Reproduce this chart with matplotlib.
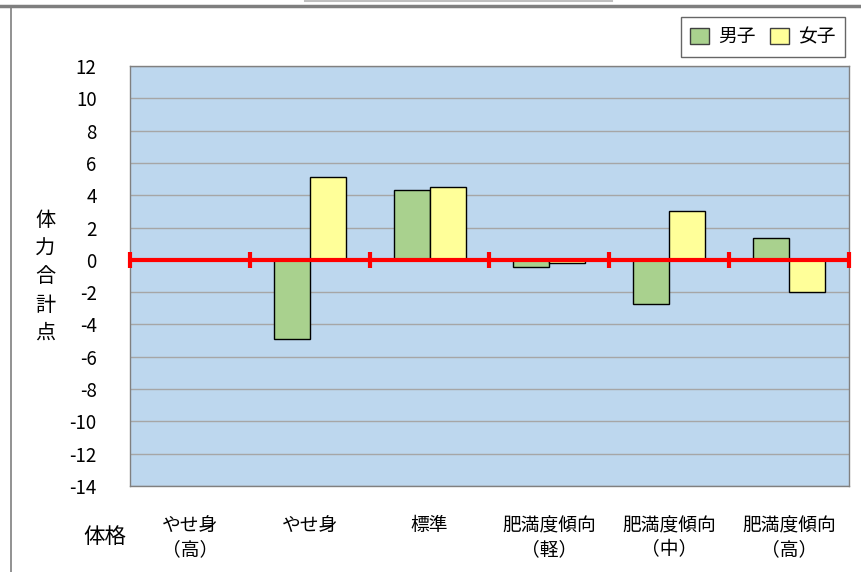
import matplotlib.pyplot as plt
import numpy as np
from matplotlib.lines import Line2D
from matplotlib.patches import Patch

plt.rcParams["font.family"] = ["Noto Sans CJK JP", "DejaVu Sans"]

# data
categories = ["やせ身\n（高）", "やせ身", "標準", "肥満度傾向\n（軽）", "肥満度傾向\n（中）", "肥満度傾向\n（高）"]
boys = [np.nan, -4.9, 4.35, -0.45, -2.75, 1.35]
girls = [np.nan, 5.1, 4.5, -0.2, 3.0, -2.0]
yticks = list(range(-14, 13, 2))

fig = plt.figure(figsize=(8.62, 5.72), dpi=100)
ax = fig.add_axes([130 / 862, 1 - 486 / 572, 719 / 862, 420 / 572])

x = np.arange(len(categories))
w = 0.3
ax.bar(x - w / 2, boys, w, color="#A9D18E", edgecolor="black", linewidth=1, zorder=3)
ax.bar(x + w / 2, girls, w, color="#FFFF99", edgecolor="black", linewidth=1, zorder=3)

ax.set_facecolor("#BDD7EE")
ax.set_xlim(-0.5, len(categories) - 0.5)
ax.set_ylim(-14, 12)
ax.set_yticks(yticks)
ax.set_yticklabels([str(t) for t in yticks], fontsize=13.5)
ax.grid(axis="y", color="#A6A6A6", linewidth=1, zorder=1)
ax.tick_params(axis="y", length=0, pad=24)
for s in ax.spines.values():
    s.set_color("#808080")
    s.set_linewidth(1)

# red zero line with category tick marks
ax.axhline(0, color="#FF0000", linewidth=3, zorder=4)
ax.plot(np.arange(-0.5, len(categories)), np.zeros(len(categories) + 1), "|",
        color="#FF0000", markersize=12, markeredgewidth=3, zorder=4, clip_on=False)

ax.set_xticks(x)
ax.set_xticklabels(categories, fontsize=13.5, linespacing=1.2, va="top")
ax.tick_params(axis="x", length=0, pad=21)

fig.text(45 / 862, 1 - 277 / 572, "体\n力\n合\n計\n点", fontsize=14.5, ha="center", va="center",
         linespacing=1.45)
fig.text(105 / 862, 1 - 537 / 572, "体格", fontsize=15.5, ha="center", va="center")

handles = [Patch(facecolor="#A9D18E", edgecolor="#404040", label="男子"),
           Patch(facecolor="#FFFF99", edgecolor="#404040", label="女子")]
leg = fig.legend(handles=handles, loc="upper right", bbox_to_anchor=(845 / 862, 1 - 17 / 572),
                 ncol=2, fontsize=13.5, frameon=True, fancybox=False, handlelength=1.0,
                 handleheight=1.0, handletextpad=0.5, columnspacing=0.75, borderpad=0.5,
                 borderaxespad=0)
leg.get_frame().set_edgecolor("#404040")
leg.get_frame().set_linewidth(1)

# outer frame pieces
fig.add_artist(Line2D([0, 1], [1 - 6 / 572, 1 - 6 / 572], color="#7F7F7F", linewidth=2.5))
fig.add_artist(Line2D([11 / 862, 11 / 862], [0, 1 - 6 / 572], color="#7F7F7F", linewidth=1.2))
fig.add_artist(Line2D([305 / 862, 612 / 862], [1 - 0.8 / 572, 1 - 0.8 / 572], color="#BFBFBF", linewidth=1.5))

fig.savefig("out.png", dpi=100)
